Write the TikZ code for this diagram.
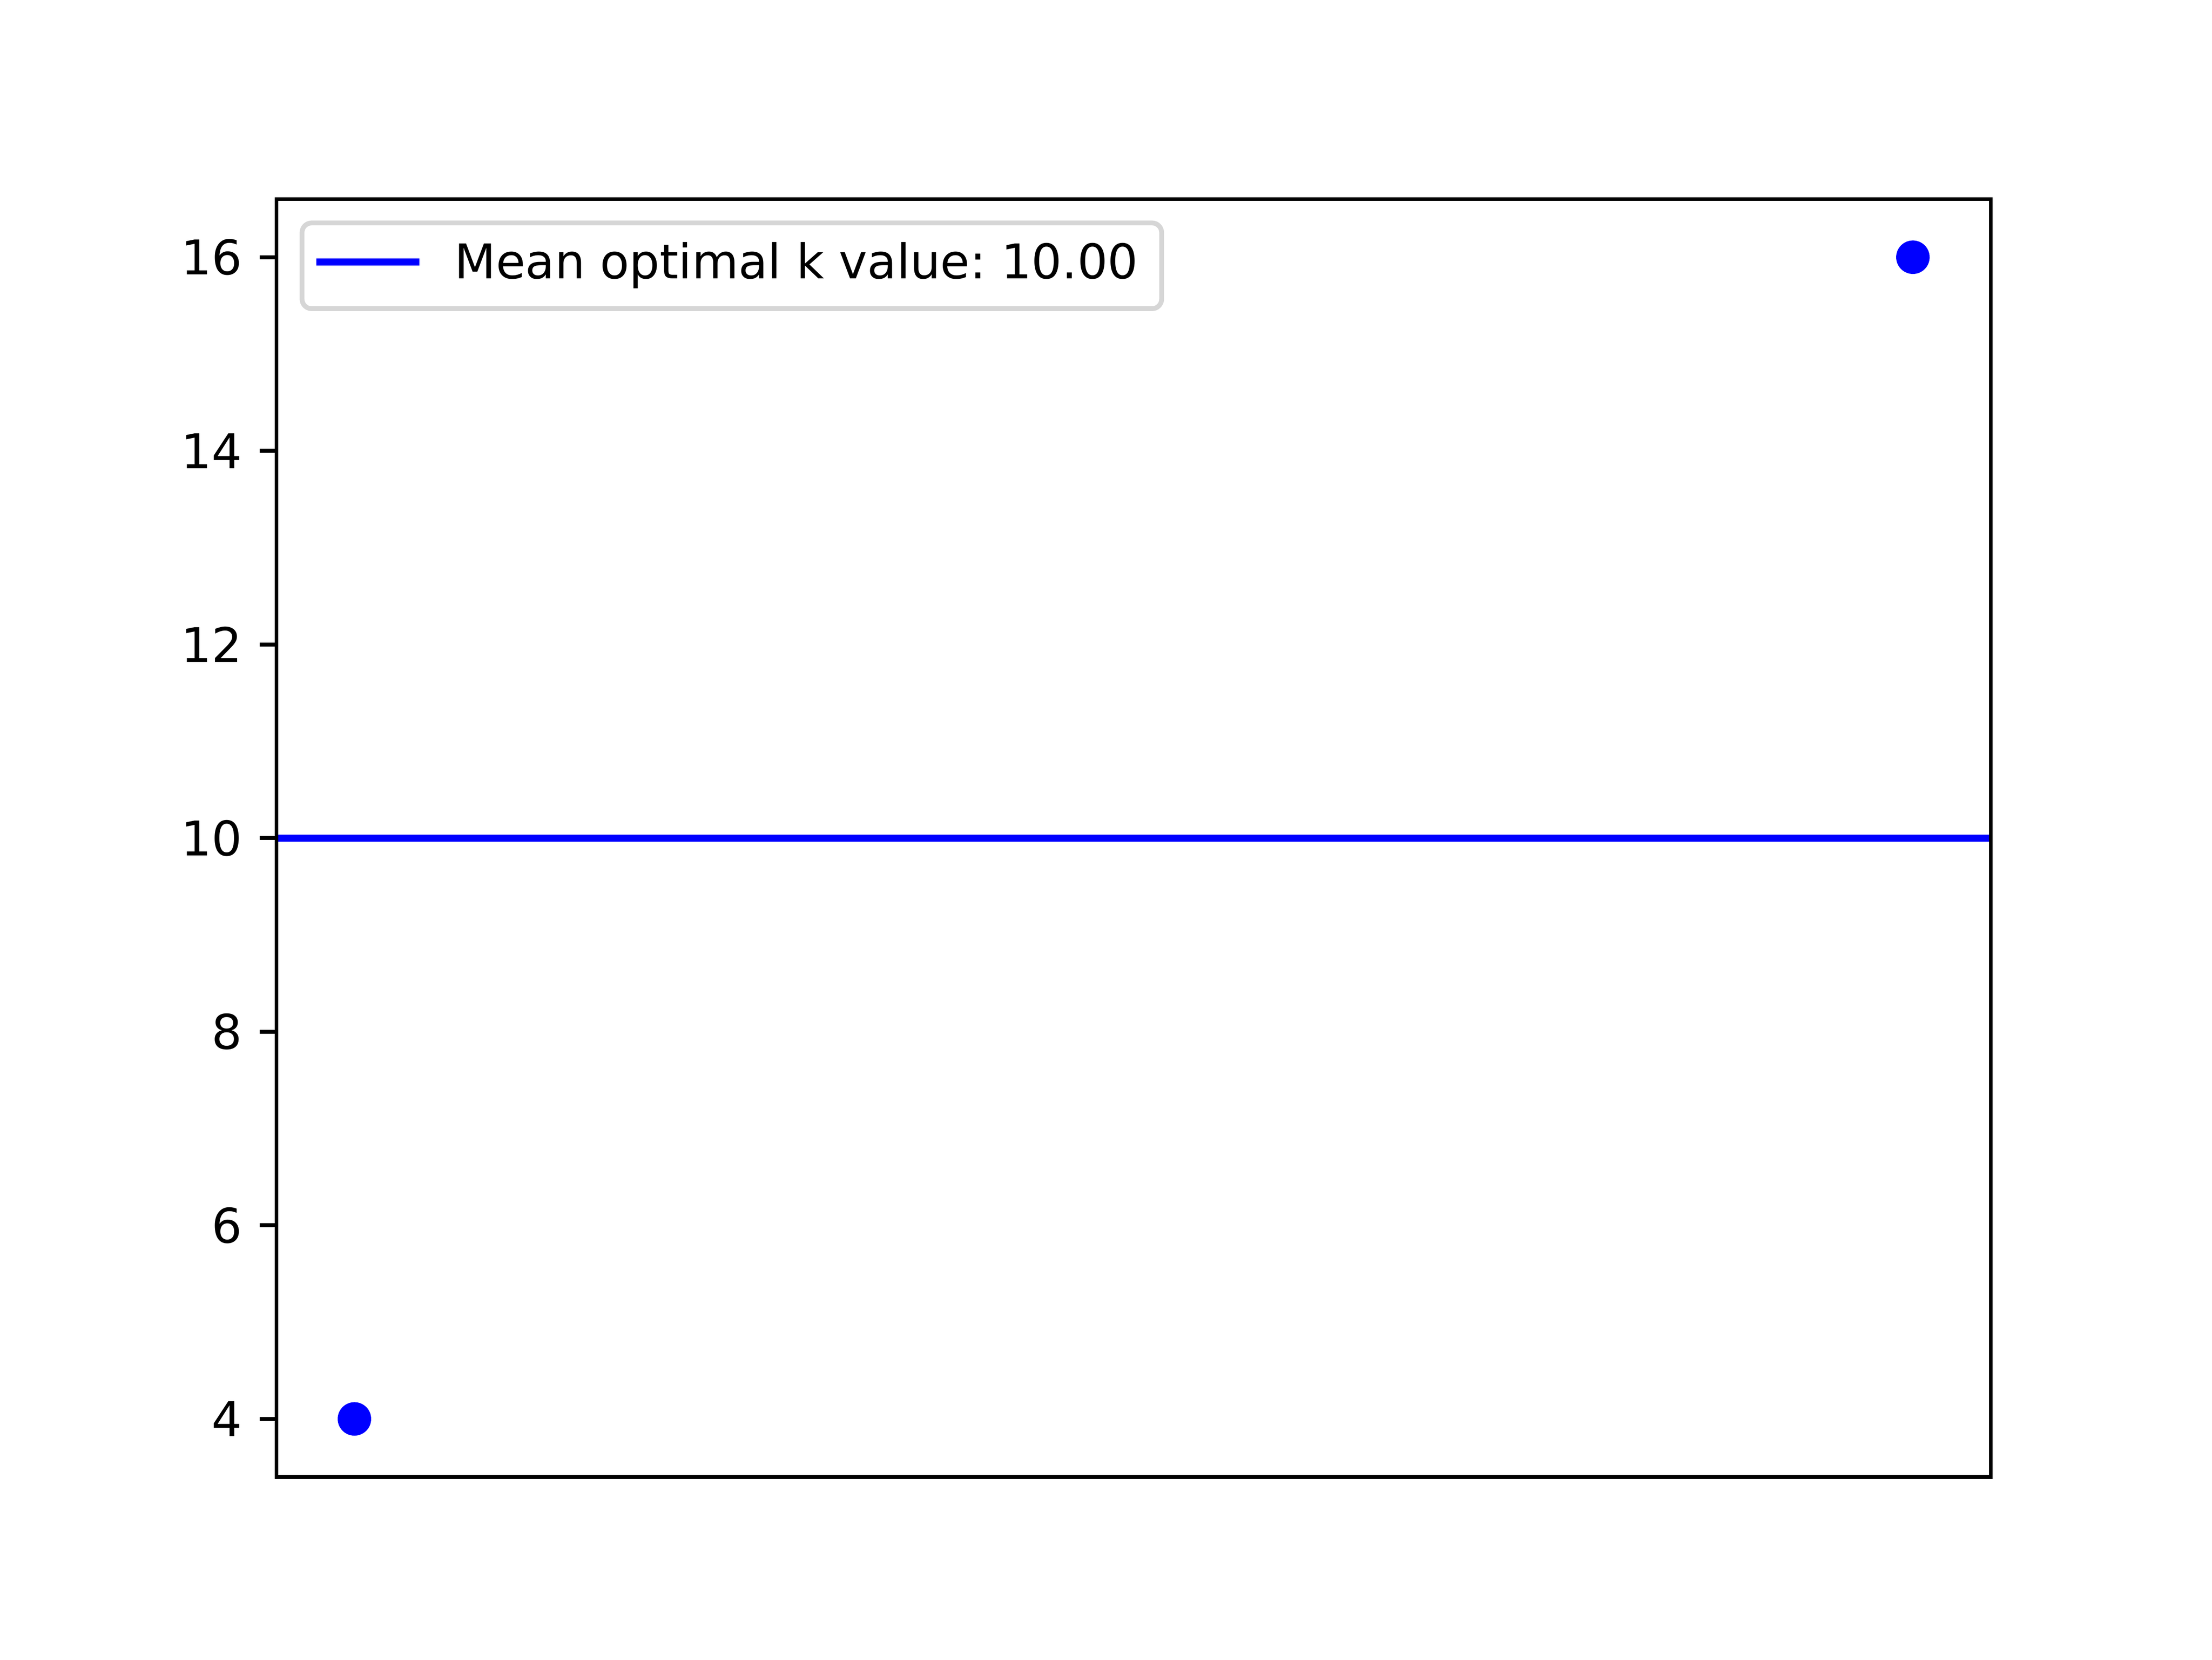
\documentclass[tikz,border=0pt]{standalone}
\usepackage{fontspec}
\setmainfont{DejaVu Sans}
\definecolor{legedge}{HTML}{D6D6D6}
\tikzset{
  axisline/.style={line width=0.8pt, black},
  ticklab/.style={anchor=east, inner sep=0pt, font=\fontsize{10}{12}\selectfont},
  datapt/.style={circle, fill=blue, inner sep=0pt, minimum size=7pt},
  meanline/.style={line width=1.5pt, blue},
  legbox/.style={draw=legedge, line width=1pt, fill=white, rounded corners=2pt}
}
\begin{document}
\frenchspacing
\begin{tikzpicture}[x=1in,y=1in]
\useasboundingbox (0,0) rectangle (6.4,4.8);
% axes corners
\coordinate (bl) at (0.8,0.528);
\coordinate (br) at (5.76,0.528);
\coordinate (tl) at (0.8,4.224);
\coordinate (tr) at (5.76,4.224);
% mean line
\coordinate (ml) at (0.8,2.376);
\coordinate (mr) at (5.76,2.376);
\draw[meanline] (ml) -- (mr);
% data points
\node[datapt] (p1) at (1.02545,0.696) {};
\node[datapt] (p2) at (5.53455,4.056) {};
% y ticks
\foreach \v in {4,6,...,16}{
  \pgfmathsetmacro{\yy}{0.528+(\v-3.4)*0.28}
  \coordinate (t\v) at (0.8,\yy);
  \coordinate (te\v) at ([xshift=-3.5pt]t\v);
  \draw[axisline] (t\v) -- (te\v);
  \node[ticklab] (l\v) at ([xshift=-3.5pt]te\v) {\v};
}
% axes frame
\draw[axisline, line join=miter] (bl) -- (br) -- (tr) -- (tl) -- cycle;
% legend
\node[legbox, minimum width=2.487in, minimum height=0.248in, anchor=north west, inner sep=0pt] (leg) at (0.867,4.162) {};
\coordinate (h1) at (0.915,4.0425);
\coordinate (h2) at (1.214,4.0425);
\draw[meanline] (h1) -- (h2);
\node[anchor=base west, inner sep=0pt, font=\fontsize{10}{12}\selectfont] (legtxt) at (1.313,3.994) {Mean optimal k value: 10.00};
\end{tikzpicture}
\end{document}
